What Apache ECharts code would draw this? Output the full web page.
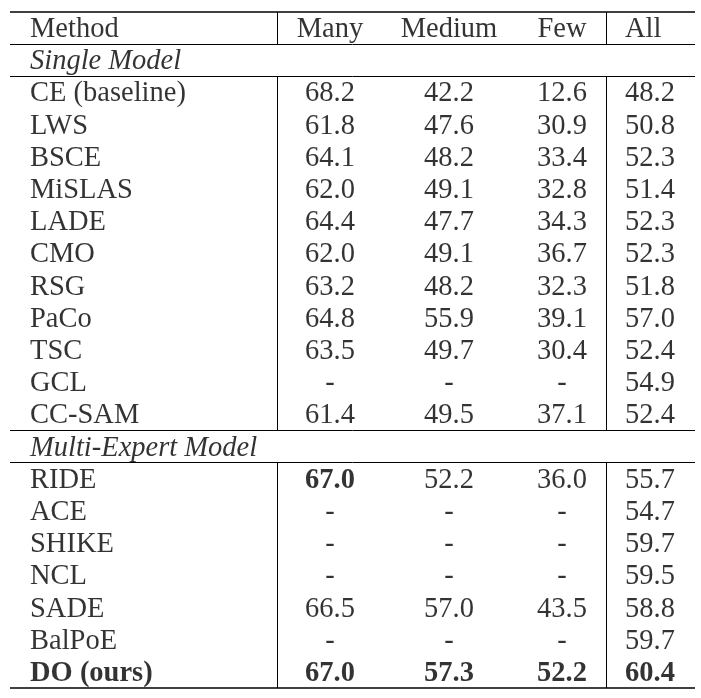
<!DOCTYPE html>
<html><head><meta charset="utf-8">
<script src="https://cdn.jsdelivr.net/npm/echarts@6/dist/echarts.min.js"></script>
<style>html,body{margin:0;padding:0;background:#fff}#c{width:701px;height:698px}</style>
</head><body><div id="c"></div>
<script>
// ---- data ----
const headers = ["Method", "Many", "Medium", "Few", "All"];
const groupSingle = "Single Model";
const methodsSingle = ["CE (baseline)", "LWS", "BSCE", "MiSLAS", "LADE", "CMO", "RSG", "PaCo", "TSC", "GCL", "CC-SAM"];
const manySingle   = [68.2, 61.8, 64.1, 62.0, 64.4, 62.0, 63.2, 64.8, 63.5, null, 61.4];
const mediumSingle = [42.2, 47.6, 48.2, 49.1, 47.7, 49.1, 48.2, 55.9, 49.7, null, 49.5];
const fewSingle    = [12.6, 30.9, 33.4, 32.8, 34.3, 36.7, 32.3, 39.1, 30.4, null, 37.1];
const allSingle    = [48.2, 50.8, 52.3, 51.4, 52.3, 52.3, 51.8, 57.0, 52.4, 54.9, 52.4];
const groupMulti = "Multi-Expert Model";
const methodsMulti = ["RIDE", "ACE", "SHIKE", "NCL", "SADE", "BalPoE", "DO (ours)"];
const manyMulti   = [67.0, null, null, null, 66.5, null, 67.0];
const mediumMulti = [52.2, null, null, null, 57.0, null, 57.3];
const fewMulti    = [36.0, null, null, null, 43.5, null, 52.2];
const allMulti    = [55.7, 54.7, 59.7, 59.5, 58.8, 59.7, 60.4];
// bold cells: [method, column]
const boldCells = [["RIDE", "Many"], ["DO (ours)", "Method"], ["DO (ours)", "Many"], ["DO (ours)", "Medium"], ["DO (ours)", "Few"], ["DO (ours)", "All"]];

// ---- layout ----
const colX = { Method: 30, Many: 330, Medium: 449, Few: 562, All: 625 };
const colAlign = { Method: "left", Many: "center", Medium: "center", Few: "center", All: "left" };
const FONT = "'Liberation Serif','Times New Roman',serif";
const FS = 28.5;

// build rows
const rows = [];
rows.push({ type: "header", cells: headers.slice() });
rows.push({ type: "group", label: groupSingle });
methodsSingle.forEach((m, i) => rows.push({ type: "data", cells: [m, manySingle[i], mediumSingle[i], fewSingle[i], allSingle[i]] }));
rows.push({ type: "group", label: groupMulti });
methodsMulti.forEach((m, i) => rows.push({ type: "data", cells: [m, manyMulti[i], mediumMulti[i], fewMulti[i], allMulti[i]] }));
const nRows = rows.length;

function fmt(v) { return (v === null || v === undefined) ? "-" : (typeof v === "number" ? v.toFixed(1) : v); }
function isBold(method, col) { return boldCells.some(b => b[0] === method && b[1] === col); }

const series = [];
headers.forEach((col, ci) => {
  const data = [];
  rows.forEach((r, ri) => {
    if (r.type === "group") {
      if (ci === 0) data.push({ value: [colX.Method, ri + 0.5], label: { formatter: r.label, fontStyle: "italic", align: "left" } });
      return;
    }
    const txt = fmt(r.cells[ci]);
    const bold = r.type === "data" && isBold(r.cells[0], col);
    data.push({ value: [colX[col], ri + 0.5], label: { formatter: txt, fontWeight: bold ? "bold" : "normal" } });
  });
  series.push({
    type: "scatter", symbolSize: 0, silent: true, data: data,
    label: { show: true, position: "inside", offset: [0, 1.5], align: colAlign[col], verticalAlign: "middle", color: "#000", fontFamily: FONT, fontSize: FS }
  });
});

// rule lines
const xL = 10, xR = 695, vx1 = 277, vx2 = 606;
const idxGroup2 = 2 + methodsSingle.length;
const hLines = [[0, 1.6], [1, 1], [2, 1], [idxGroup2, 1], [idxGroup2 + 1, 1], [nRows, 1.6]];
const vSegs = [[0, 1], [2, idxGroup2], [idxGroup2 + 1, nRows]];
const mlData = [];
hLines.forEach(h => mlData.push([{ coord: [xL, h[0]], lineStyle: { width: h[1] } }, { coord: [xR, h[0]] }]));
[vx1, vx2].forEach(x => vSegs.forEach(s => mlData.push([{ coord: [x, s[0]], lineStyle: { width: 1 } }, { coord: [x, s[1]] }])));
series.push({
  type: "scatter", data: [], silent: true,
  markLine: { silent: true, symbol: "none", animation: false, label: { show: false }, lineStyle: { color: "#000", type: "solid" }, data: mlData }
});

const chart = echarts.init(document.getElementById("c"), null, { renderer: "canvas" });
chart.setOption({
  animation: false,
  backgroundColor: "#fff",
  grid: { left: 0, right: 0, top: 12, bottom: 10 },
  xAxis: { type: "value", min: 0, max: 701, show: false },
  yAxis: { type: "value", min: 0, max: nRows, inverse: true, show: false },
  series: series
});
</script></body></html>
